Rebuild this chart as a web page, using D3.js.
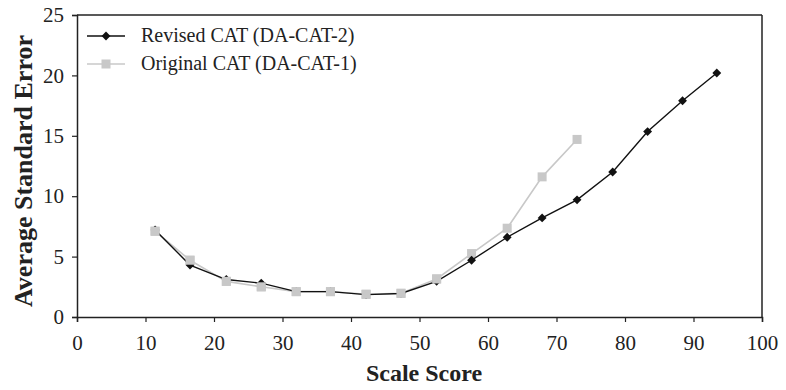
<!DOCTYPE html>
<html>
<head>
<meta charset="utf-8">
<script src="https://cdn.jsdelivr.net/npm/d3@7"></script>
<style>
  body { margin: 0; background: #fff; }
  text { font-family: "Liberation Serif", "Times New Roman", serif; }
</style>
</head>
<body>
<svg id="chart" width="786" height="390"></svg>
<script>
// data
var revisedX = [11.4, 16.5, 21.8, 26.9, 32, 37, 42.2, 47.3, 52.5, 57.6, 62.8, 67.9, 73, 78.2, 83.3, 88.4, 93.4];
var revisedY = [7.2, 4.3, 3.1, 2.8, 2.1, 2.1, 1.85, 1.95, 2.95, 4.7, 6.6, 8.2, 9.7, 12.0, 15.35, 17.9, 20.2];
var originalX = [11.4, 16.5, 21.8, 26.9, 32, 37, 42.2, 47.3, 52.5, 57.6, 62.8, 67.9, 73];
var originalY = [7.1, 4.7, 2.95, 2.5, 2.1, 2.1, 1.88, 1.96, 3.15, 5.25, 7.35, 11.6, 14.7];
var xTicks = [0, 10, 20, 30, 40, 50, 60, 70, 80, 90, 100];
var yTicks = [0, 5, 10, 15, 20, 25];
var seriesNames = ["Revised CAT (DA-CAT-2)", "Original CAT (DA-CAT-1)"];

var svg = d3.select('#chart');
var mLeft = 77, mRight = 762, mTop = 15, mBottom = 317;

var x = d3.scaleLinear().domain([0, 100]).range([mLeft, mRight]);
var y = d3.scaleLinear().domain([0, 25]).range([mBottom, mTop]);

// frame top and right
svg.append('line').attr('x1', mLeft).attr('x2', mRight).attr('y1', mTop).attr('y2', mTop)
   .attr('stroke', '#222').attr('stroke-width', 1.5);
svg.append('line').attr('x1', mRight).attr('x2', mRight).attr('y1', mTop).attr('y2', mBottom)
   .attr('stroke', '#222').attr('stroke-width', 1.5);

var xAxis = svg.append('g').attr('transform', 'translate(0,' + mBottom + ')')
   .call(d3.axisBottom(x).tickValues(xTicks).tickSize(5).tickPadding(13));
var yAxis = svg.append('g').attr('transform', 'translate(' + mLeft + ',0)')
   .call(d3.axisLeft(y).tickValues(yTicks).tickSize(5).tickPadding(8));

[xAxis, yAxis].forEach(function (g) {
  g.select('.domain').attr('stroke', '#222').attr('stroke-width', 1.5);
  g.selectAll('.tick line').attr('stroke', '#222').attr('stroke-width', 1.2);
  g.selectAll('.tick text').attr('font-family', '"Liberation Serif", serif')
   .attr('font-size', 21).attr('fill', '#222');
});

svg.append('text').attr('x', 424).attr('y', 381)
   .attr('text-anchor', 'middle').attr('font-size', 24).attr('font-weight', 'bold')
   .attr('fill', '#222').text('Scale Score');
svg.append('text').attr('transform', 'translate(32,171) rotate(-90)')
   .attr('text-anchor', 'middle').attr('font-size', 26).attr('font-weight', 'bold')
   .attr('fill', '#222').text('Average Standard Error');

var line = d3.line().x(function (d) { return x(d[0]); }).y(function (d) { return y(d[1]); });

var orig = d3.zip(originalX, originalY);
var rev = d3.zip(revisedX, revisedY);

// original (gray, squares)
svg.append('path').datum(orig).attr('d', line)
   .attr('fill', 'none').attr('stroke', '#c8c8c8').attr('stroke-width', 1.6);
svg.selectAll('.sq').data(orig).enter().append('rect').attr('class', 'sq')
   .attr('x', function (d) { return x(d[0]) - 4.5; })
   .attr('y', function (d) { return y(d[1]) - 4.5; })
   .attr('width', 9).attr('height', 9).attr('fill', '#c8c8c8');

// revised (black, diamonds)
svg.append('path').datum(rev).attr('d', line)
   .attr('fill', 'none').attr('stroke', '#111').attr('stroke-width', 1.4);
var diamond = d3.symbol().type(d3.symbolDiamond2).size(50);
svg.selectAll('.dm').data(rev).enter().append('path').attr('class', 'dm')
   .attr('transform', function (d) { return 'translate(' + x(d[0]) + ',' + y(d[1]) + ')'; })
   .attr('d', diamond).attr('fill', '#111');

// gray points drawn on top at low end where they cover black
svg.selectAll('.sq2').data(orig.slice(0, 9)).enter().append('rect').attr('class', 'sq2')
   .attr('x', function (d) { return x(d[0]) - 4.5; })
   .attr('y', function (d) { return y(d[1]) - 4.5; })
   .attr('width', 9).attr('height', 9).attr('fill', '#c8c8c8');

// legend
var legend = svg.append('g');
var legendY = [36, 64];
var legendColors = ['#111', '#c8c8c8'];
seriesNames.forEach(function (name, i) {
  legend.append('line').attr('x1', 87).attr('x2', 125)
     .attr('y1', legendY[i]).attr('y2', legendY[i])
     .attr('stroke', legendColors[i]).attr('stroke-width', 1.6);
  if (i === 0) {
    legend.append('path').attr('transform', 'translate(106,' + legendY[i] + ')')
       .attr('d', diamond).attr('fill', '#111');
  } else {
    legend.append('rect').attr('x', 101.5).attr('y', legendY[i] - 4.5)
       .attr('width', 9).attr('height', 9).attr('fill', '#c8c8c8');
  }
  legend.append('text').attr('x', 141).attr('y', legendY[i] + 6)
     .attr('font-size', 20).attr('fill', '#222').text(name);
});
</script>
</body>
</html>
